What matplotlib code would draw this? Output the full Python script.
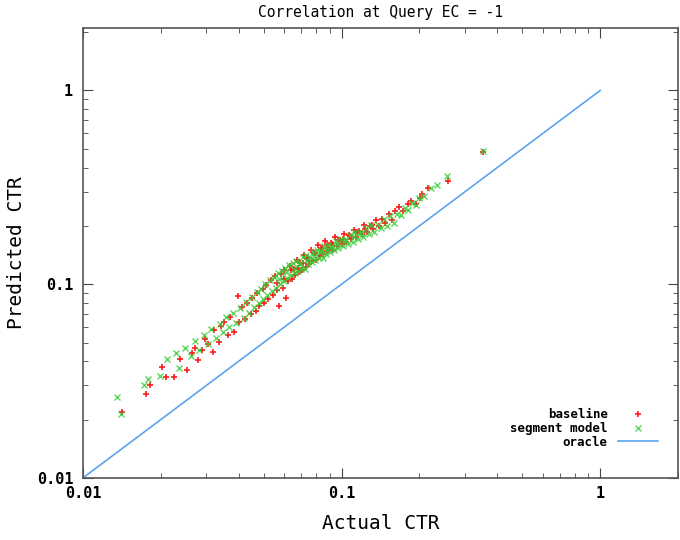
import matplotlib
matplotlib.use('Agg')
import matplotlib.pyplot as plt
import numpy as np

# baseline predictions (red +)
base_x = [0.0142, 0.0176, 0.0181, 0.0203, 0.0209, 0.0224, 0.0238, 0.0252, 0.0263, 0.0271,
          0.0278, 0.0289, 0.0296, 0.0304, 0.0317, 0.0322, 0.0335, 0.0341, 0.0352, 0.0364,
          0.0372, 0.0385, 0.0398, 0.0401, 0.0412, 0.0425, 0.0431, 0.0446, 0.0452, 0.0467,
          0.0473, 0.0481, 0.0495, 0.0503, 0.0512, 0.0521, 0.0533, 0.0545, 0.0552, 0.0561,
          0.0574, 0.0583, 0.0592, 0.0601, 0.0612, 0.0623, 0.0631, 0.0644, 0.0652, 0.0663,
          0.0671, 0.0684, 0.0692, 0.0705, 0.0716, 0.0728, 0.0735, 0.0749, 0.0761, 0.0772,
          0.0785, 0.0796, 0.0812, 0.0824, 0.0838, 0.0851, 0.0866, 0.0882, 0.0895, 0.0912,
          0.0928, 0.0945, 0.0961, 0.0982, 0.1004, 0.1022, 0.1045, 0.1068, 0.1092, 0.1115,
          0.1142, 0.1168, 0.1195, 0.1224, 0.1256, 0.1287, 0.1322, 0.1358, 0.1395, 0.1433,
          0.1476, 0.1522, 0.1568, 0.1615, 0.1672, 0.1735, 0.1801, 0.1862, 0.1935, 0.2015,
          0.2050, 0.2150, 0.2590, 0.3530,
          0.0565, 0.0598, 0.0638, 0.0676, 0.0712, 0.0745, 0.0790, 0.0835, 0.0875, 0.0918,
          0.0965, 0.1010, 0.1080, 0.1150, 0.1230, 0.1310]
base_y = [0.0218, 0.0272, 0.0300, 0.0375, 0.0330, 0.0330, 0.0410, 0.0360, 0.0440, 0.0470,
          0.0405, 0.0455, 0.0520, 0.0490, 0.0445, 0.0580, 0.0505, 0.0610, 0.0640, 0.0545,
          0.0680, 0.0565, 0.0870, 0.0640, 0.0760, 0.0660, 0.0800, 0.0700, 0.0850, 0.0730,
          0.0900, 0.0770, 0.0940, 0.0800, 0.0990, 0.0840, 0.1050, 0.0880, 0.1100, 0.0930,
          0.0770, 0.1130, 0.0960, 0.1190, 0.0845, 0.1040, 0.1240, 0.1070, 0.1205, 0.1110,
          0.1330, 0.1150, 0.1290, 0.1190, 0.1420, 0.1230, 0.1350, 0.1270, 0.1500, 0.1310,
          0.1450, 0.1340, 0.1600, 0.1390, 0.1545, 0.1430, 0.1680, 0.1480, 0.1540, 0.1630,
          0.1510, 0.1750, 0.1570, 0.1700, 0.1620, 0.1820, 0.1660, 0.1790, 0.1710, 0.1910,
          0.1760, 0.1880, 0.1810, 0.2010, 0.1860, 0.1990, 0.1920, 0.2150, 0.2000, 0.2160,
          0.2070, 0.2310, 0.2150, 0.2390, 0.2500, 0.2380, 0.2600, 0.2700, 0.2580, 0.2780,
          0.2910, 0.3120, 0.3430, 0.4800,
          0.1010, 0.1060, 0.1180, 0.1210, 0.1290, 0.1370, 0.1450, 0.1520, 0.1590, 0.1620,
          0.1700, 0.1720, 0.1770, 0.1870, 0.1930, 0.2030]

# segment model predictions (green x)
seg_x = [0.0135, 0.0140, 0.0172, 0.0178, 0.0199, 0.0212, 0.0228, 0.0236, 0.0248, 0.0261,
         0.0270, 0.0282, 0.0293, 0.0305, 0.0312, 0.0326, 0.0338, 0.0347, 0.0359, 0.0368,
         0.0380, 0.0392, 0.0405, 0.0418, 0.0428, 0.0440, 0.0449, 0.0458, 0.0470, 0.0478,
         0.0489, 0.0498, 0.0507, 0.0516, 0.0527, 0.0538, 0.0548, 0.0557, 0.0566, 0.0578,
         0.0588, 0.0597, 0.0606, 0.0617, 0.0627, 0.0638, 0.0648, 0.0658, 0.0667, 0.0678,
         0.0688, 0.0698, 0.0710, 0.0722, 0.0731, 0.0743, 0.0755, 0.0767, 0.0778, 0.0791,
         0.0804, 0.0818, 0.0831, 0.0845, 0.0859, 0.0873, 0.0888, 0.0904, 0.0920, 0.0936,
         0.0953, 0.0972, 0.0993, 0.1013, 0.1034, 0.1056, 0.1080, 0.1104, 0.1129, 0.1155,
         0.1182, 0.1210, 0.1240, 0.1272, 0.1305, 0.1340, 0.1378, 0.1415, 0.1455, 0.1498,
         0.1545, 0.1592, 0.1640, 0.1695, 0.1752, 0.1810, 0.1870, 0.1935, 0.1990, 0.2090,
         0.2210, 0.2350, 0.2560, 0.3520,
         0.0572, 0.0612, 0.0655, 0.0693, 0.0738, 0.0782, 0.0825, 0.0868, 0.0912, 0.0962,
         0.1045, 0.1120, 0.1195]
seg_y = [0.0262, 0.0214, 0.0300, 0.0325, 0.0335, 0.0410, 0.0440, 0.0370, 0.0470, 0.0425,
         0.0510, 0.0460, 0.0545, 0.0490, 0.0590, 0.0530, 0.0625, 0.0565, 0.0675, 0.0600,
         0.0710, 0.0630, 0.0750, 0.0670, 0.0810, 0.0710, 0.0860, 0.0760, 0.0910, 0.0800,
         0.0950, 0.0840, 0.1000, 0.0880, 0.1050, 0.0920, 0.1090, 0.0960, 0.1140, 0.1000,
         0.1170, 0.1040, 0.1210, 0.1080, 0.1250, 0.1110, 0.1280, 0.1140, 0.1320, 0.1170,
         0.1270, 0.1200, 0.1380, 0.1200, 0.1410, 0.1270, 0.1380, 0.1300, 0.1470, 0.1330,
         0.1510, 0.1360, 0.1480, 0.1360, 0.1570, 0.1430, 0.1600, 0.1470, 0.1580, 0.1500,
         0.1670, 0.1540, 0.1710, 0.1580, 0.1700, 0.1610, 0.1800, 0.1660, 0.1850, 0.1710,
         0.1830, 0.1760, 0.1960, 0.1810, 0.2020, 0.1870, 0.2030, 0.1940, 0.2160, 0.2000,
         0.2240, 0.2080, 0.2310, 0.2280, 0.2470, 0.2420, 0.2620, 0.2560, 0.2780, 0.2850,
         0.3120, 0.3250, 0.3640, 0.4850,
         0.1060, 0.1150, 0.1200, 0.1280, 0.1330, 0.1400, 0.1460, 0.1500, 0.1550, 0.1620,
         0.1690, 0.1760, 0.1840]

oracle = [0.01, 1.0]
ticks = [0.01, 0.1, 1]
tick_labels = ['0.01', '0.1', '1']

mono = 'DejaVu Sans Mono'

fig = plt.figure(figsize=(6.8, 5.4), dpi=100)
ax = fig.add_axes([0.122, 0.115, 0.875, 0.833])

ax.plot(base_x, base_y, '+', color='#ff1a1a', ms=5, mew=1.2, label='baseline', zorder=3)
ax.plot(seg_x, seg_y, 'x', color='#33cc33', ms=4.5, mew=1.0, alpha=0.8,
        label='segment model', zorder=3)
ax.plot(oracle, oracle, '-', color='#5aa5f0', lw=1.2, label='oracle', zorder=2)

ax.set_xscale('log')
ax.set_yscale('log')
ax.set_xlim(0.01, 2)
ax.set_ylim(0.01, 2.1)
ax.set_xticks(ticks)
ax.set_xticklabels(tick_labels)
ax.set_yticks(ticks)
ax.set_yticklabels(tick_labels)
ax.tick_params(which='both', direction='in', top=True, right=True, color='#444444')
ax.tick_params(which='major', length=7, labelsize=11)
ax.tick_params(which='minor', length=3.5)
ax.tick_params(axis='x', which='major', pad=6)
ax.tick_params(axis='y', which='major', pad=7)
for lab in ax.get_xticklabels() + ax.get_yticklabels():
    lab.set_family(mono)
    lab.set_fontweight('bold')
for s in ax.spines.values():
    s.set_color('#555555')
    s.set_linewidth(1.2)

ax.set_title('Correlation at Query EC = -1', family=mono, fontsize=10.5, pad=8)
ax.set_xlabel('Actual CTR', family=mono, fontsize=14, labelpad=9)
ax.set_ylabel('Predicted CTR', family=mono, fontsize=14, labelpad=8)

leg = ax.legend(loc='lower right', bbox_to_anchor=(0.985, 0.04), frameon=False,
                markerfirst=False, prop={'family': mono, 'size': 9, 'weight': 'bold'},
                handlelength=3.2, labelspacing=0.05, handletextpad=0.8)
for t in leg.get_texts():
    t.set_ha('right')

fig.savefig('out.png', dpi=100)
